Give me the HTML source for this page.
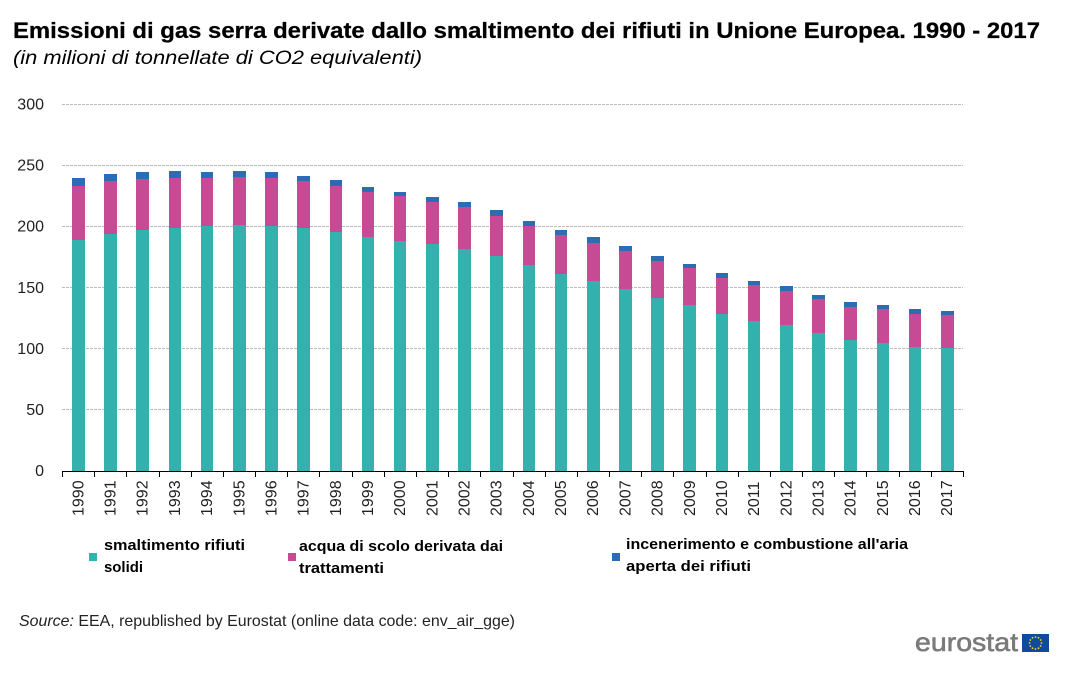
<!DOCTYPE html>
<html lang="it">
<head>
<meta charset="utf-8">
<title>Emissioni di gas serra</title>
<style>
html,body{margin:0;padding:0;background:#fff;width:1082px;height:692px;overflow:hidden}
svg{display:block;font-family:"Liberation Sans",sans-serif}
.legend-text{font-size:15px;font-weight:bold;fill:#000}
.tick-text{font-size:16px;fill:#222}
</style>
</head>
<body>
<svg id="chart" width="1082" height="692" viewBox="0 0 1082 692" xmlns="http://www.w3.org/2000/svg">
  <text x="13" y="38" font-size="22" font-weight="bold" fill="#000" stroke="#000" stroke-width="0.25" textLength="1027" lengthAdjust="spacingAndGlyphs">Emissioni di gas serra derivate dallo smaltimento dei rifiuti in Unione Europea. 1990 - 2017</text>
  <text x="13" y="64" font-size="19" font-style="italic" fill="#000" textLength="409" lengthAdjust="spacingAndGlyphs">(in milioni di tonnellate di CO2 equivalenti)</text>
  <g id="grid"></g>
  <g id="bars"></g>
  <g id="axes"></g>

  <rect x="89" y="553" width="8" height="8" fill="#32b1ae"/>
  <text class="legend-text"><tspan x="104" y="550" textLength="141" lengthAdjust="spacingAndGlyphs">smaltimento rifiuti</tspan><tspan x="104" y="572" textLength="39" lengthAdjust="spacingAndGlyphs">solidi</tspan></text>
  <rect x="288" y="553" width="8" height="8" fill="#c74b94"/>
  <text class="legend-text"><tspan x="299" y="551" textLength="204" lengthAdjust="spacingAndGlyphs">acqua di scolo derivata dai</tspan><tspan x="299" y="573" textLength="85" lengthAdjust="spacingAndGlyphs">trattamenti</tspan></text>
  <rect x="612" y="553" width="8" height="8" fill="#2a6db5"/>
  <text class="legend-text"><tspan x="626" y="549" textLength="282" lengthAdjust="spacingAndGlyphs">incenerimento e combustione all'aria</tspan><tspan x="626" y="571" textLength="125" lengthAdjust="spacingAndGlyphs">aperta dei rifiuti</tspan></text>

  <text x="19" y="626" font-size="16" fill="#222" textLength="496" lengthAdjust="spacingAndGlyphs"><tspan font-style="italic">Source:</tspan> EEA, republished by Eurostat (online data code: env_air_gge)</text>

  <text x="915" y="651" font-size="26" fill="#7a7a7a" stroke="#7a7a7a" stroke-width="0.6" textLength="103" lengthAdjust="spacingAndGlyphs">eurostat</text>
  <g id="flag">
    <rect x="1022" y="634" width="27" height="18" fill="#0f4a9c"/>
  </g>
</svg>
<script>
const categories = ["1990","1991","1992","1993","1994","1995","1996","1997","1998","1999","2000","2001","2002","2003","2004","2005","2006","2007","2008","2009","2010","2011","2012","2013","2014","2015","2016","2017"];
const solidWaste = [189,194,197.3,198.9,200.5,201.4,200.5,198.9,195.6,191.5,188.3,186,181.5,176,168.5,161.3,155.5,149,141.6,135.9,128.5,122.8,119.5,113,107.2,104.8,101.5,100.7];
const wasteWater = [44.3,43.4,41.7,40.9,39.3,39.2,39.3,38.5,37.7,36.9,36.7,34.2,34.5,32.7,32,31.9,31.1,31,30.3,30.3,29.5,29.4,27.8,27.8,27,27.8,27,27];
const incineration = [6.5,5.6,5.7,5.7,4.9,4.9,4.9,4.1,4.9,4.1,3.4,4.1,4.2,4.9,4.1,4.1,4.9,4.2,4.1,3.2,4,3.3,4.1,3.2,4.1,3.3,4.1,3.3];
const yTicks = [0,50,100,150,200,250,300];

const NS = "http://www.w3.org/2000/svg";
const plotLeft = 62, plotRight = 963, plotBottom = 471, plotTop = 104.5, yMax = 300;
const barWidth = 12.6;
const step = (plotRight - plotLeft) / categories.length;
const xScale = i => plotLeft + 0.3 + step * (i + 0.5);
const yScale = v => plotBottom - (v / yMax) * (plotBottom - plotTop);

function make(tag, attrs, parent) {
  const el = document.createElementNS(NS, tag);
  for (const k in attrs) el.setAttribute(k, attrs[k]);
  parent.appendChild(el);
  return el;
}

const grid = document.getElementById("grid");
const axes = document.getElementById("axes");
const bars = document.getElementById("bars");

yTicks.forEach(t => {
  const y = Math.round(yScale(t)) + 0.5;
  if (t > 0) {
    const line = make("line", {x1: plotLeft, x2: plotRight, y1: y - 1, y2: y - 1, stroke: "#bcbcbc", "stroke-width": 1, "stroke-dasharray": "3 1"}, grid);
    
    
  }
  const label = make("text", {x: 44, y: yScale(t) + 5, "text-anchor": "end", class: "tick-text"}, axes);
  label.textContent = t;
  
  
});

const seriesList = [
  {key: "solid-waste", values: solidWaste, color: "#32b1ae"},
  {key: "waste-water", values: wasteWater, color: "#c74b94"},
  {key: "incineration", values: incineration, color: "#2a6db5"}
];

categories.forEach((c, i) => {
  let base = 0;
  const x0 = Math.round(xScale(i) - barWidth / 2);
  const x1 = Math.round(xScale(i) + barWidth / 2);
  seriesList.forEach(s => {
    const top = base + s.values[i];
    const y1 = Math.round(yScale(top)), y0 = Math.round(yScale(base));
    const r = make("rect", {x: x0, y: y1, width: x1 - x0, height: y0 - y1, fill: s.color}, bars);
    
    
    base = top;
  });
  const label = make("text", {transform: "translate(" + (xScale(i) + 5) + ",516) rotate(-90)", class: "tick-text"}, axes);
  label.textContent = c;
  
  
});

for (let i = 0; i <= categories.length; i++) {
  const x = Math.round(plotLeft + step * i) + 0.5;
  const tick = make("line", {x1: x, x2: x, y1: plotBottom, y2: plotBottom + 6, stroke: "#000", "stroke-width": 1}, axes);
  
  
}
const axisLine = make("line", {x1: plotLeft, x2: plotRight + 1, y1: plotBottom + 0.5, y2: plotBottom + 0.5, stroke: "#000", "stroke-width": 1}, axes);



const flag = document.getElementById("flag");
for (let a = 0; a < 12; a++) {
  const ang = a * Math.PI / 6;
  const star = make("circle", {cx: 1035.5 + 6 * Math.cos(ang), cy: 643 + 6 * Math.sin(ang), r: 0.9, fill: "#e8d53a"}, flag);
  
  
}
</script>
</body>
</html>
